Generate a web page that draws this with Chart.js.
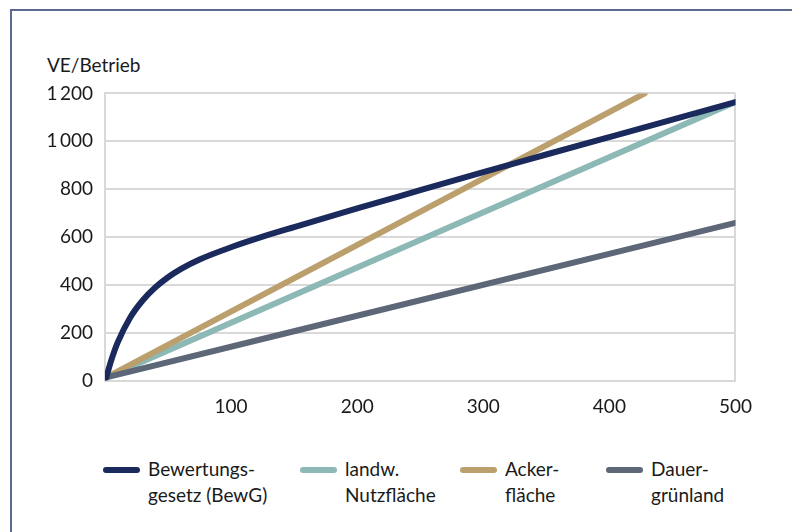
<!DOCTYPE html>
<html>
<head>
<meta charset="utf-8">
<script src="https://cdn.jsdelivr.net/npm/chart.js@4.4.1/dist/chart.umd.min.js"></script>
<style>
  body { margin: 0; background: #fff; width: 792px; height: 532px; overflow: hidden; position: relative; font-family: Lato, "Open Sans", sans-serif; color: #1a1a1a; }
  #frame { position: absolute; left: 10px; top: 9px; width: 800px; height: 540px; border-top: 2px solid #5a6892; border-left: 2px solid #5a6892; }
  #ytitle { position: absolute; left: 47px; top: 53px; font-size: 19px; }
  #wrap { position: absolute; left: 0; top: 70px; width: 766px; height: 355px; }
  .item { position: absolute; top: 456px; font-size: 19px; line-height: 26px; }
  .swatch { position: absolute; top: 11px; width: 37px; height: 6px; border-radius: 3px; }
  .label { position: absolute; left: 45px; top: 0; white-space: nowrap; }
</style>
</head>
<body>
<div id="frame"></div>
<div id="ytitle">VE/Betrieb</div>
<div id="wrap"><canvas id="chart"></canvas></div>
<div id="legend"></div>
<script>
// Hektar (x) und VE/Betrieb (y)
const bewgX = [1, 5, 10, 20, 30, 40, 50, 60, 75, 100, 125, 150, 200, 250, 300, 350, 400, 450, 500];
const bewgY = [15, 87, 160, 265, 337, 391, 433, 467, 507, 558, 602, 642, 720, 796, 872, 945, 1018, 1091, 1164];
const landwX = [1, 500];
const landwY = [15, 1164];
const ackerX = [1, 428];
const ackerY = [15, 1200];
const dauerX = [1, 500];
const dauerY = [15, 660];

const xTicks = [0, 100, 200, 300, 400, 500];
const yTicks = [0, 200, 400, 600, 800, 1000, 1200];

const seriesNames = [["Bewertungs-", "gesetz (BewG)"], ["landw.", "Nutzfläche"], ["Acker-", "fläche"], ["Dauer-", "grünland"]];
const colors = ["#1b2a5c", "#8cb8b6", "#bb9f6c", "#5d6777"];
const legendLeft = [103, 300, 460, 606];

const toPoints = (xs, ys) => xs.map((x, i) => ({ x: x, y: ys[i] }));
const gridColor = "#d9d9d9";

const datasets = [
    toPoints(bewgX, bewgY),
    toPoints(landwX, landwY),
    toPoints(ackerX, ackerY),
    toPoints(dauerX, dauerY)
].map((pts, i) => ({
    label: seriesNames[i].join(" "),
    data: pts,
    borderColor: colors[i],
    backgroundColor: colors[i],
    borderWidth: 6,
    borderCapStyle: "round",
    borderJoinStyle: "round",
    pointRadius: 0,
    cubicInterpolationMode: "monotone",
    fill: false
}));
// BewG oben zeichnen
datasets[0].order = 0;
datasets[1].order = 3;
datasets[2].order = 2;
datasets[3].order = 1;

const tickFont = { family: "Lato, 'Open Sans', sans-serif", size: 19 };

new Chart(document.getElementById("chart"), {
    type: "line",
    data: { datasets: datasets },
    options: {
        responsive: true,
        maintainAspectRatio: false,
        animation: false,
        layout: { padding: { top: 3, right: 20, left: 0, bottom: 0 } },
        plugins: { legend: { display: false }, tooltip: { enabled: false } },
        scales: {
            x: {
                type: "linear",
                min: 0,
                max: 500,
                afterBuildTicks: (s) => { s.ticks = xTicks.map(v => ({ value: v })); },
                afterFit: (s) => { s.height = 44; },
                ticks: {
                    color: "#1a1a1a",
                    font: tickFont,
                    padding: 14,
                    maxRotation: 0,
                    callback: (v) => v === 0 ? "" : String(v)
                },
                grid: {
                    drawTicks: false,
                    lineWidth: 2,
                    color: (c) => (c.tick && (c.tick.value === 0 || c.tick.value === 500)) ? gridColor : "rgba(0,0,0,0)"
                },
                border: { color: gridColor, width: 2 }
            },
            y: {
                min: 0,
                max: 1200,
                afterBuildTicks: (s) => { s.ticks = yTicks.map(v => ({ value: v })); },
                afterFit: (s) => { s.width = 105; },
                ticks: {
                    color: "#1a1a1a",
                    font: tickFont,
                    padding: 12,
                    callback: (v) => v >= 1000 ? Math.floor(v / 1000) + "\u2009" + String(v % 1000).padStart(3, "0") : String(v)
                },
                grid: { drawTicks: false, lineWidth: 2, color: gridColor },
                border: { color: gridColor, width: 2 }
            }
        }
    }
});

// Legende
const legend = document.getElementById("legend");
seriesNames.forEach((name, i) => {
    const item = document.createElement("div");
    item.className = "item";
    item.style.left = legendLeft[i] + "px";
    item.innerHTML = '<div class="swatch" style="background:' + colors[i] + '"></div>' +
        '<div class="label">' + name.join("<br>") + '</div>';
    legend.appendChild(item);
});
</script>
</body>
</html>
